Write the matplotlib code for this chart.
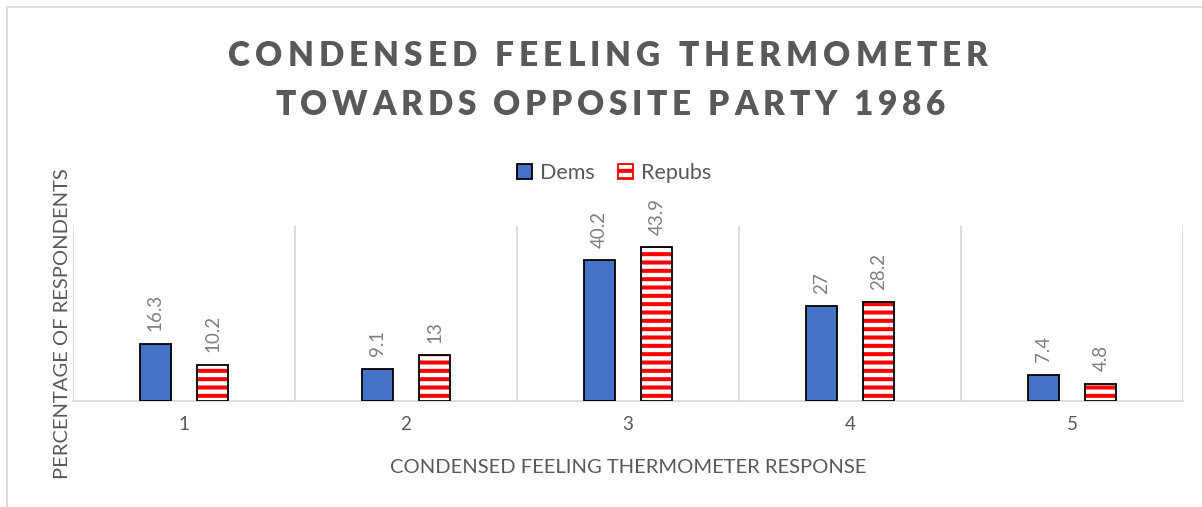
import matplotlib
matplotlib.use("Agg")
import matplotlib.pyplot as plt
from matplotlib.patches import Rectangle, Patch
import numpy as np

# Survey data: share of respondents per condensed thermometer response
categories = ["1", "2", "3", "4", "5"]
dems = [16.3, 9.1, 40.2, 27, 7.4]
repubs = [10.2, 13, 43.9, 28.2, 4.8]
series_names = ["Dems", "Repubs"]

title_lines = ["CONDENSED FEELING THERMOMETER", "TOWARDS OPPOSITE PARTY 1986"]
xlabel = "CONDENSED FEELING THERMOMETER RESPONSE"
ylabel = "PERCENTAGE OF RESPONDENTS"

BLUE = "#4472C4"
RED = "#FF0000"
GRID = "#D9D9D9"
DARK = "#595959"
LABEL = "#7F7F7F"
FONT = "Lato"

plt.rcParams["font.family"] = [FONT, "DejaVu Sans"]
plt.rcParams["hatch.linewidth"] = 2.9

W, H = 1202, 507
fig = plt.figure(figsize=(W / 100, H / 100), dpi=100)
ax = fig.add_axes([73 / W, 1 - 400.5 / H, (1183 - 73) / W, (400.5 - 226) / H])

x = np.arange(1, len(categories) + 1)
width = 0.14
off = 0.13

b1 = ax.bar(x - off, dems, width, color=BLUE, edgecolor="black", linewidth=1.3, zorder=3)
# striped fill for the second series, then a black outline on top
b2 = ax.bar(x + off, repubs, width, color="white", edgecolor=RED, linewidth=0,
            hatch="--", zorder=3)
ax.bar(x + off, repubs, width, facecolor="none", edgecolor="black", linewidth=1.3, zorder=4)

for bars, vals in ((b1, dems), (b2, repubs)):
    for r, v in zip(bars, vals):
        ax.annotate(f"{v:g}", (r.get_x() + r.get_width() / 2, v), xytext=(0, 9),
                    textcoords="offset points", rotation=90, ha="center", va="bottom",
                    fontsize=13.5, color=LABEL)

ax.set_xlim(0.5, len(categories) + 0.5)
ax.set_ylim(0, 50)
ax.set_yticks([])
ax.set_xticks(x)
ax.set_xticklabels(categories, fontsize=13.5, color=DARK)
ax.tick_params(axis="x", length=0, pad=11)
for b in np.arange(0.5, len(categories) + 1, 1.0):
    ax.axvline(b, color=GRID, linewidth=1.3, zorder=1)
for s in ("top", "left", "right"):
    ax.spines[s].set_visible(False)
ax.spines["bottom"].set_color(GRID)
ax.spines["bottom"].set_linewidth(1.3)

ax.set_xlabel(xlabel, fontsize=14.5, color=DARK, labelpad=19)
fig.text(63 / W, 1 - 324 / H, ylabel, rotation=90, ha="center", va="center",
         fontsize=14.5, color=DARK)


def tracked_text(cx, cy, s, total_width, **kw):
    """Draw a centred line of text spread to a given width by spacing its characters."""
    renderer = fig.canvas.get_renderer()
    widths = []
    for ch in s:
        if ch == " ":
            t = fig.text(0, 0, "n n", **kw)
            tn = fig.text(0, 0, "nn", **kw)
            w = (t.get_window_extent(renderer).width
                 - tn.get_window_extent(renderer).width)
            t.remove()
            tn.remove()
        else:
            t = fig.text(0, 0, ch, **kw)
            w = t.get_window_extent(renderer).width
            t.remove()
        widths.append(w)
    tracking = (total_width - sum(widths)) / (len(s) - 1)
    px = cx - total_width / 2
    for ch, w in zip(s, widths):
        if ch != " ":
            fig.text(px / W, 1 - cy / H, ch, ha="left", va="center", **kw)
        px += w + tracking


title_kw = dict(fontsize=24, fontweight="heavy", color=DARK)
tracked_text(608, 56, title_lines[0], 760, **title_kw)
tracked_text(610, 105, title_lines[1], 670, **title_kw)

# legend
handles = [Patch(facecolor=BLUE, edgecolor="black", linewidth=1.3),
           Patch(facecolor="white", edgecolor=RED, hatch="--", linewidth=1.3)]
fig.legend(handles, series_names, loc="center", bbox_to_anchor=(614 / W, 1 - 173 / H),
           ncol=2, frameon=False, fontsize=15.5, handlelength=0.7, handleheight=0.7,
           handletextpad=0.35, columnspacing=1.1, labelcolor=DARK)

# outer chart frame
fig.patches.append(Rectangle((7 / W, -0.1), 1.2, 1.1 - 7 / H, transform=fig.transFigure,
                             facecolor="none", edgecolor=GRID, linewidth=1.3))

fig.savefig("out.png", dpi=100)
